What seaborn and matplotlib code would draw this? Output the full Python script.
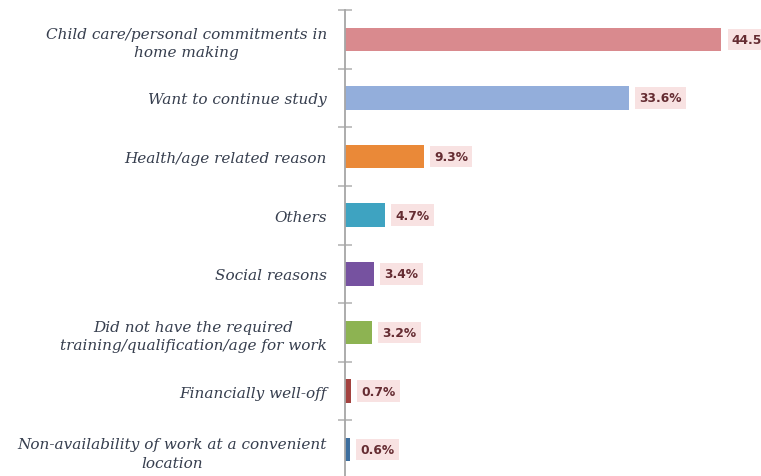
import matplotlib
matplotlib.use("Agg")
import matplotlib.pyplot as plt
import seaborn as sns
import pandas as pd
import numpy as np

categories = [
    "Child care/personal commitments in\nhome making",
    "Want to continue study",
    "Health/age related reason",
    "Others",
    "Social reasons",
    "Did not have the required\ntraining/qualification/age for work",
    "Financially well-off",
    "Non-availability of work at a convenient\nlocation",
]
values = [44.5, 33.6, 9.3, 4.7, 3.4, 3.2, 0.7, 0.6]
value_labels = ["44.5%", "33.6%", "9.3%", "4.7%", "3.4%", "3.2%", "0.7%", "0.6%"]
colors = ["#D98A8E", "#93AEDB", "#EA8938", "#3EA3C1", "#7652A0", "#8DB352", "#A3423F", "#3D6E9E"]

df = pd.DataFrame({"category": categories, "value": values})

sns.set_style("white")
fig = plt.figure(figsize=(7.61, 4.77), dpi=100)
ax = fig.add_axes([345 / 761, -3 / 477, 416 / 761, 469 / 477])

sns.barplot(data=df, y="category", x="value", hue="category", palette=colors,
            order=categories, hue_order=categories, orient="h", width=0.40,
            dodge=False, legend=False, ax=ax, saturation=1, linewidth=0)

ax.set_xlim(0, 49.2)
ax.set_ylim(len(categories) - 0.5, -0.5)
ax.set_xlabel("")
ax.set_ylabel("")
ax.set_xticks([])

for s in ["top", "right", "bottom"]:
    ax.spines[s].set_visible(False)
ax.spines["left"].set_color("#A6A6A6")
ax.spines["left"].set_linewidth(1.3)

ax.set_yticks(range(len(categories)))
ax.set_yticklabels(categories, fontsize=11, fontfamily="DejaVu Serif",
                   fontstyle="italic", color="#363E4E", multialignment="center",
                   linespacing=1.4)
ax.tick_params(axis="y", which="major", left=False, length=0, pad=13)
ax.set_yticks(np.arange(-0.5, len(categories), 1.0), minor=True)
ax.tick_params(axis="y", which="minor", left=True, length=10, width=1.1,
               direction="inout", color="#B0B0B0")

for i, (v, lab) in enumerate(zip(values, value_labels)):
    ax.text(v + 1.25, i, lab, va="center", ha="left", fontsize=8.8, fontweight="bold",
            color="#652C32", fontfamily="DejaVu Sans",
            bbox=dict(boxstyle="square,pad=0.35", fc="#F8E2E2", ec="none"))

fig.savefig("out.png", dpi=100)
